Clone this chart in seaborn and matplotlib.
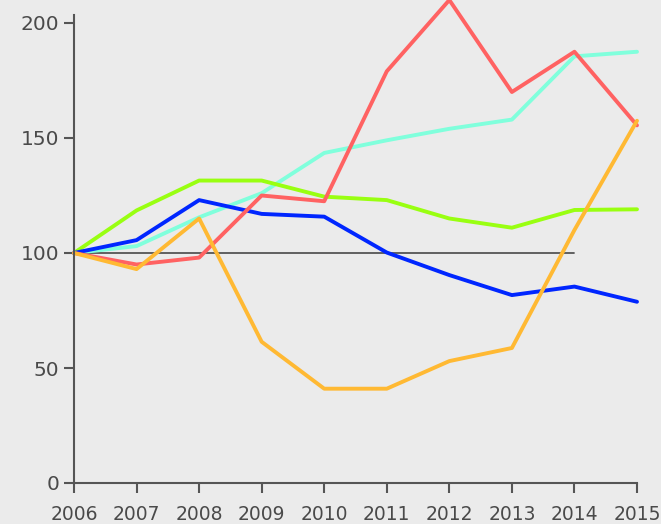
import matplotlib
matplotlib.use("Agg")
import matplotlib.pyplot as plt
import seaborn as sns
import pandas as pd

years = list(range(2006, 2016))
cyan = [100, 103, 115.5, 126, 143.5, 149, 154, 158, 185.5, 187.5]
green = [100, 118.5, 131.5, 131.5, 124.5, 123, 115, 111, 118.7, 119]
blue = [100, 105.6, 123, 117, 115.8, 100.2, 90.4, 81.7, 85.4, 78.8]
red = [100, 95, 98, 125, 122.5, 179, 210, 170, 187.5, 155.5]
orange = [100, 93, 115, 61.4, 41, 41, 53, 58.7, 110, 157.5]
series_names = ["cyan", "green", "blue", "red", "orange"]
palette = {"cyan": "#80ffdc", "green": "#99ff11", "blue": "#0026ff",
           "red": "#ff6262", "orange": "#ffb933"}
ref_years = [2006, 2014]
ref_values = [100, 100]
yticks = [0, 50, 100, 150, 200]

rows = []
for name, vals in zip(series_names, [cyan, green, blue, red, orange]):
    for y, v in zip(years, vals):
        rows.append({"year": y, "value": v, "series": name})
df = pd.DataFrame(rows)

sns.set_style("ticks")
bg = "#ebebeb"
plt.rcParams["font.family"] = ["DejaVu Sans"]

fig = plt.figure(figsize=(6.61, 5.24), dpi=100, facecolor=bg)
ax = fig.add_axes([74 / 661, 41 / 524, 563 / 661, 483 / 524])
ax.set_facecolor(bg)

ax.plot(ref_years, ref_values, color="#555555", lw=1.3, zorder=1)
sns.lineplot(data=df, x="year", y="value", hue="series", hue_order=series_names,
             palette=palette, lw=2.8, legend=False, ax=ax, zorder=2)
for ln in ax.lines:
    ln.set_clip_on(False)

ax.set_xlim(2006, 2015)
ax.set_ylim(0, 210)
ax.set_xticks(years)
ax.set_yticks(yticks)
ax.set_xlabel("")
ax.set_ylabel("")
for s in ["top", "right"]:
    ax.spines[s].set_visible(False)
for s in ["left", "bottom"]:
    ax.spines[s].set_color("#555555")
    ax.spines[s].set_linewidth(1.5)
ax.spines["left"].set_bounds(0, 203.5)
ax.tick_params(axis="both", direction="out", length=7.2, width=1.5,
               color="#555555", labelcolor="#4a4a4a")
ax.tick_params(axis="y", pad=3.6, labelsize=14.5)
ax.tick_params(axis="x", pad=9, labelsize=13.5)

fig.savefig("out.png", dpi=100, facecolor=bg)
